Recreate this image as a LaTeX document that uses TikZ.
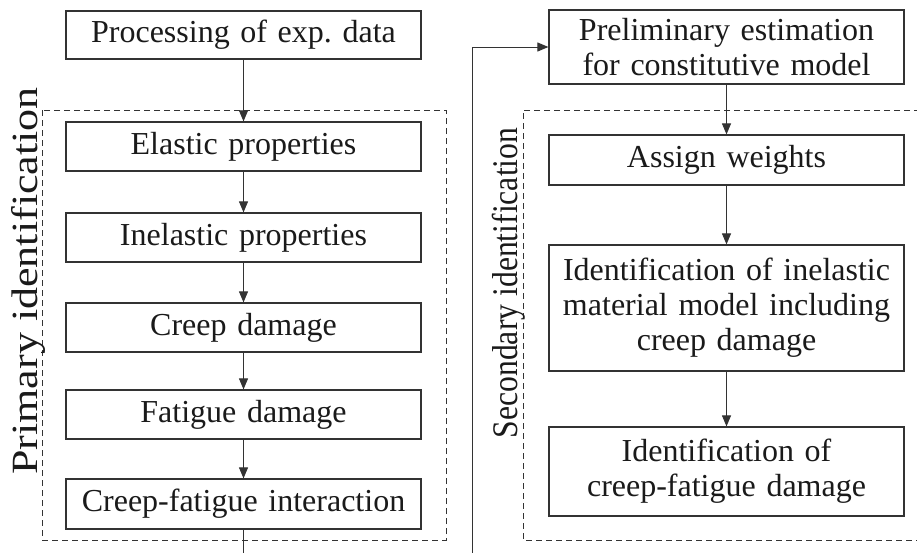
\documentclass[tikz,border=0pt]{standalone}
\usepackage{fontspec}
\setmainfont{Liberation Serif}
\usetikzlibrary{arrows.meta}
\definecolor{linec}{HTML}{333333}
\definecolor{textc}{HTML}{1A1A1A}
\frenchspacing
\begin{document}
\begin{tikzpicture}[x=1pt,y=-1pt,
  box/.style={draw=linec, line width=1.2pt, minimum width=355pt, text width=345pt, align=center, inner sep=0pt, text=textc, font=\fontsize{32}{35}\selectfont},
  conn/.style={draw=linec, line width=1pt, -{Triangle[length=11pt,width=9pt]}},
  group/.style={draw=linec, line width=0.9pt, dash pattern=on 6pt off 4pt},
  sidelabel/.style={rotate=90, anchor=base, text=textc, inner sep=0pt}]
\clip (0,0) rectangle (917,552);
\fill[white] (0,0) rectangle (917,552);
% groups
\draw[group] (42,110) rectangle (446,540);
\draw[group] (930,110) -- (523,110) -- (523,540) -- (930,540);
% left column
\node[box, minimum height=48pt] (proc) at (243.5,35) {Processing of exp. data};
\node[box, minimum height=49pt] (elas) at (243.5,146.5) {Elastic properties};
\node[box, minimum height=49pt] (inel) at (243.5,237.5) {Inelastic properties};
\node[box, minimum height=49pt] (creep) at (243.5,327.5) {Creep damage};
\node[box, minimum height=49pt] (fat) at (243.5,414.5) {Fatigue damage};
\node[box, minimum height=50pt] (cf) at (243.5,504) {Creep-fatigue interaction};
% right column
\node[box, minimum height=74pt] (prelim) at (726.5,47) {Preliminary estimation\\for constitutive model};
\node[box, minimum height=50pt] (assign) at (726.5,160) {Assign weights};
\node[box, minimum height=126pt] (idin) at (726.5,308) {Identification of inelastic\\material model including\\creep damage};
\node[box, minimum height=89pt] (idcf) at (726.5,471.5) {Identification of\\creep-fatigue damage};
% labels
\node[sidelabel] (plab) at (37,281) {\fontsize{37}{37}\selectfont\scalebox{1.19}[1]{Primary identification}};
\node[sidelabel] (slab) at (517,283) {\fontsize{36}{36}\selectfont\scalebox{0.88}[1]{Secondary identification}};
% connectors
\draw[conn] (proc.south) -- (elas.north);
\draw[conn] (elas.south) -- (inel.north);
\draw[conn] (inel.south) -- (creep.north);
\draw[conn] (creep.south) -- (fat.north);
\draw[conn] (fat.south) -- (cf.north);
\coordinate (c1) at (243.5,575);
\coordinate (c2) at (472,575);
\coordinate (c3) at (472,47);
\draw[conn] (cf.south) -- (c1) -- (c2) -- (c3) -- (prelim.west);
\draw[conn] (prelim.south) -- (assign.north);
\draw[conn] (assign.south) -- (idin.north);
\draw[conn] (idin.south) -- (idcf.north);
\end{tikzpicture}
\end{document}
